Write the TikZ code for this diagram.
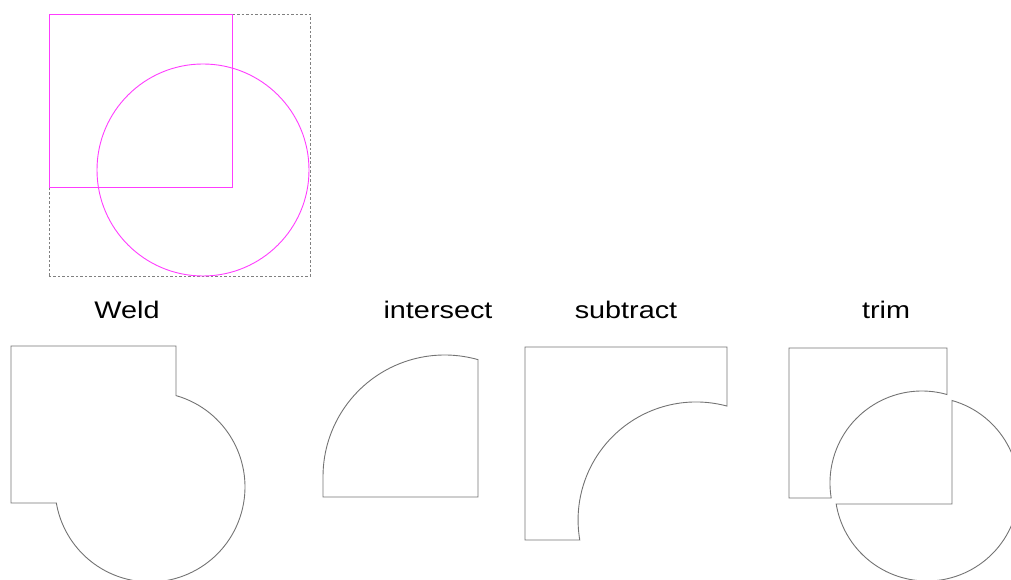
\documentclass[tikz,border=0pt]{standalone}
\usepackage{fontspec}
\setmainfont{Liberation Sans}
\definecolor{opmagenta}{RGB}{255,60,255}
\tikzset{
    operand/.style={color=opmagenta, line width=0.9pt},
    bbox/.style={color=gray, line width=0.9pt, dash pattern=on 2.5pt off 2pt},
    result/.style={color=black!55, line width=0.9pt},
    oplabel/.style={anchor=base, xscale=1.2, font=\fontsize{24}{28}\selectfont},
}
\begin{document}
\begin{tikzpicture}[x=1pt, y=1pt]
    \useasboundingbox (0,0) rectangle (1011,580);
    % the two operands and their bounding box
    \draw[bbox] (49,304) rectangle (310,566);
    \draw[operand] (49,393) rectangle (232,566);
    \draw[operand] (203,410) circle[radius=106];
    % labels
    \node[oplabel] (weld) at (127,261) {Weld};
    \node[oplabel] (intersect) at (438,261) {intersect};
    \node[oplabel] (subtract) at (626,261) {subtract};
    \node[oplabel] (trim) at (886,261) {trim};
    % weld
    \draw[result] (11,234) -- (176,234) -- (176,184.4) arc[start angle=74.1, end angle=-170.3, radius=95] -- (11,77) -- cycle;
    % intersect
    \draw[result] (323,83) -- (323,103.3) arc[start angle=180, end angle=74.1, radius=121.7] -- (478,83) -- cycle;
    % subtract
    \draw[result] (525,233) -- (727,233) -- (727,173.9) arc[start angle=74.8, end angle=189.8, radius=118] -- (525,40) -- cycle;
    % trim
    \draw[result] (789,232) -- (947,232) -- (947,185.5) arc[start angle=74.2, end angle=189.4, radius=92] -- (789,82) -- cycle;
    \draw[result] (952,76) -- (952,179.5) arc[start angle=74.2, end angle=-170.6, radius=92] -- cycle;
\end{tikzpicture}
\end{document}
